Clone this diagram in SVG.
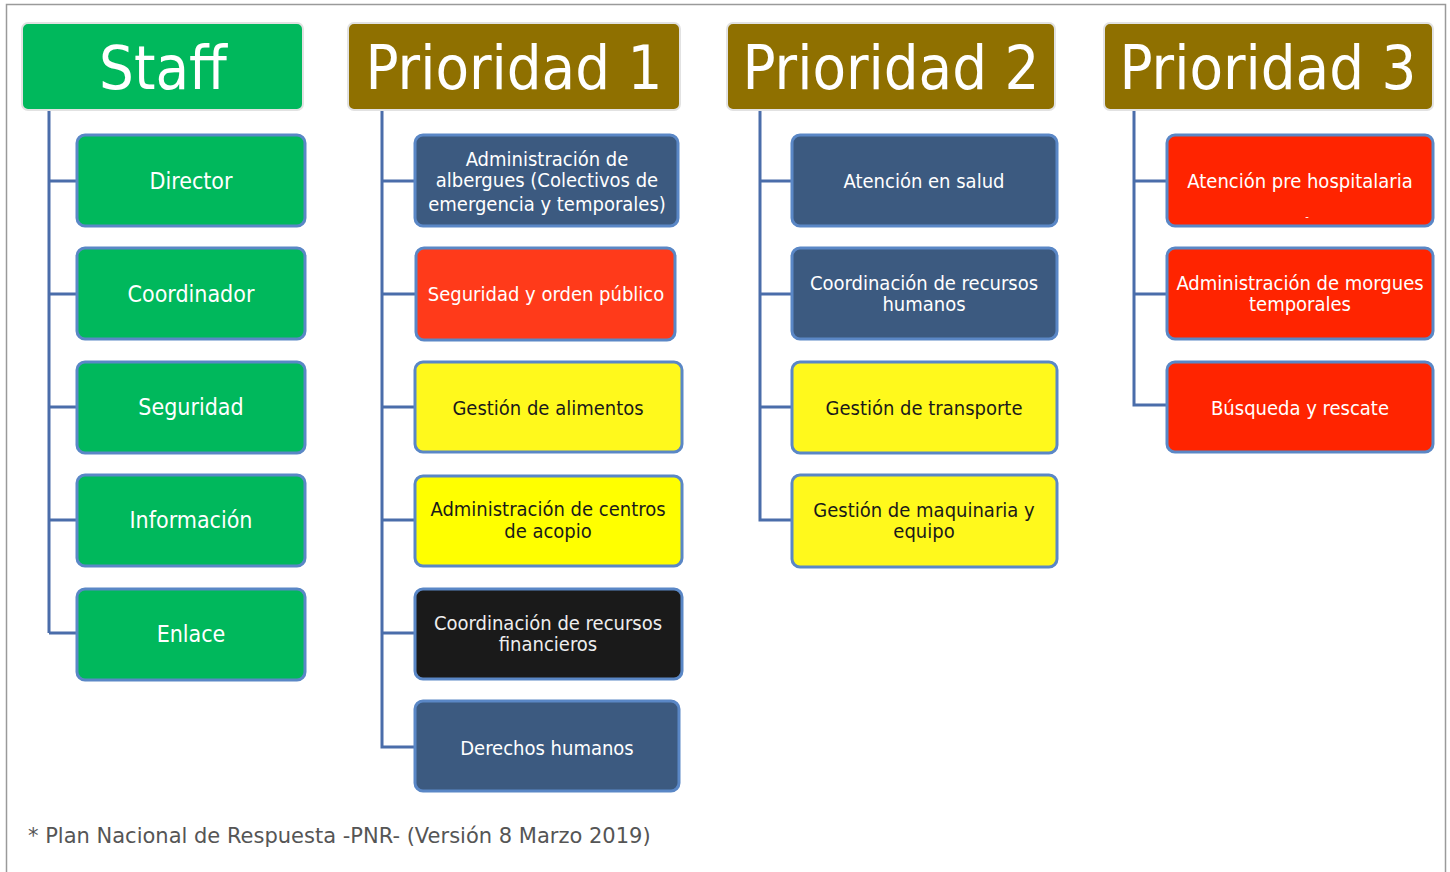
<svg xmlns="http://www.w3.org/2000/svg" width="1450" height="872" viewBox="0 0 1450 872">
<style>
.frame{fill:none;stroke:#9a9a9a;stroke-width:1.5}
.hdr{stroke:#e2e2e2;stroke-width:2}
.green{fill:#00B85C}
.brown{fill:#8F7000}
.node{stroke:#5A87C6;stroke-width:3}
.blue{fill:#3C5A80}
.red{fill:#FF3A1A}
.red3{fill:#FF2400}
.yel{fill:#FFF91C}
.yel2{fill:#FFFF00}
.blk{fill:#1A1A1A}
.conn{fill:none;stroke:#4A6DAA;stroke-width:3}
text{font-family:"DejaVu Sans Condensed","DejaVu Sans",sans-serif;text-anchor:middle}
.ht{font-size:61px;fill:#ffffff}
.st{font-size:23px;fill:#ffffff}
.wt{font-size:20px;fill:#ffffff}
.lt{font-size:20px;fill:#eeeeee}
.dt{font-size:20px;fill:#1a1a1a}
.foot{font-family:"DejaVu Sans",sans-serif;font-size:21px;fill:#555555;text-anchor:start}
</style>
<rect class="frame" x="6.5" y="4.5" width="1439" height="890"/>
<g id="connectors">
<path class="conn" d="M49 110 V633 M49 181 H77 M49 294 H77 M49 407 H77 M49 520 H77 M49 633 H77"/>
<path class="conn" d="M382 110 V747 H415 M382 181 H415 M382 294 H415 M382 407 H415 M382 520 H415 M382 633 H415"/>
<path class="conn" d="M760 110 V520 H792 M760 181 H792 M760 294 H792 M760 407 H792"/>
<path class="conn" d="M1134 110 V405 H1167 M1134 181 H1167 M1134 294 H1167"/>
</g>
<g id="staff"><rect class="hdr green" x="22" y="23" width="281" height="87" rx="6"/><text class="ht" x="163" y="89">Staff</text></g>
<g id="prioridad1"><rect class="hdr brown" x="348" y="23" width="332" height="87" rx="6"/><text class="ht" x="514" y="89">Prioridad 1</text></g>
<g id="prioridad2"><rect class="hdr brown" x="727" y="23" width="328" height="87" rx="6"/><text class="ht" x="891" y="89">Prioridad 2</text></g>
<g id="prioridad3"><rect class="hdr brown" x="1104" y="23" width="329" height="87" rx="6"/><text class="ht" x="1268" y="89">Prioridad 3</text></g>

<g id="director"><rect class="node green" x="77" y="135" width="228" height="91" rx="8"/><text class="st" x="191" y="189">Director</text></g>
<g id="coordinador"><rect class="node green" x="77" y="248" width="228" height="91" rx="8"/><text class="st" x="191" y="302">Coordinador</text></g>
<g id="seguridad"><rect class="node green" x="77" y="362" width="228" height="91" rx="8"/><text class="st" x="191" y="415">Seguridad</text></g>
<g id="informacion"><rect class="node green" x="77" y="475" width="228" height="91" rx="8"/><text class="st" x="191" y="528">Información</text></g>
<g id="enlace"><rect class="node green" x="77" y="589" width="228" height="91" rx="8"/><text class="st" x="191" y="642">Enlace</text></g>

<g id="albergues"><rect class="node blue" x="415" y="135" width="263" height="91" rx="8"/><text class="wt" x="547" y="166">Administración de</text><text class="wt" x="547" y="187">albergues (Colectivos de</text><text class="wt" x="547" y="211">emergencia y temporales)</text></g>
<g id="orden"><rect class="node red" x="416" y="248" width="259" height="92" rx="8"/><text class="wt" x="546" y="301">Seguridad y orden público</text></g>
<g id="alimentos"><rect class="node yel" x="415" y="362" width="267" height="90" rx="8"/><text class="dt" x="548" y="415">Gestión de alimentos</text></g>
<g id="acopio"><rect class="node yel2" x="415" y="476" width="267" height="90" rx="8"/><text class="dt" x="548" y="516">Administración de centros</text><text class="dt" x="548" y="538">de acopio</text></g>
<g id="financieros"><rect class="node blk" x="415" y="589" width="267" height="90" rx="8"/><text class="lt" x="548" y="630">Coordinación de recursos</text><text class="lt" x="548" y="651">financieros</text></g>
<g id="derechos"><rect class="node blue" x="415" y="701" width="264" height="90" rx="8"/><text class="wt" x="547" y="755">Derechos humanos</text></g>

<g id="salud"><rect class="node blue" x="792" y="135" width="265" height="91" rx="8"/><text class="wt" x="924" y="188">Atención en salud</text></g>
<g id="rrhh"><rect class="node blue" x="792" y="248" width="265" height="91" rx="8"/><text class="wt" x="924" y="290">Coordinación de recursos</text><text class="wt" x="924" y="311">humanos</text></g>
<g id="transporte"><rect class="node yel" x="792" y="362" width="265" height="91" rx="8"/><text class="dt" x="924" y="415">Gestión de transporte</text></g>
<g id="maquinaria"><rect class="node yel" x="792" y="475" width="265" height="92" rx="8"/><text class="dt" x="924" y="517">Gestión de maquinaria y</text><text class="dt" x="924" y="538">equipo</text></g>

<g id="prehospitalaria"><rect class="node red3" x="1167" y="135" width="266" height="91" rx="8"/><text class="wt" x="1300" y="188">Atención pre hospitalaria</text><text class="wt" x="1307" y="220" style="font-size:11px">-</text></g>
<g id="morgues"><rect class="node red3" x="1167" y="248" width="266" height="91" rx="8"/><text class="wt" x="1300" y="290">Administración de morgues</text><text class="wt" x="1300" y="311">temporales</text></g>
<g id="rescate"><rect class="node red3" x="1167" y="362" width="266" height="90" rx="8"/><text class="wt" x="1300" y="415">Búsqueda y rescate</text></g>

<text class="foot" x="28" y="843">* Plan Nacional de Respuesta -PNR- (Versión 8 Marzo 2019)</text>
</svg>
